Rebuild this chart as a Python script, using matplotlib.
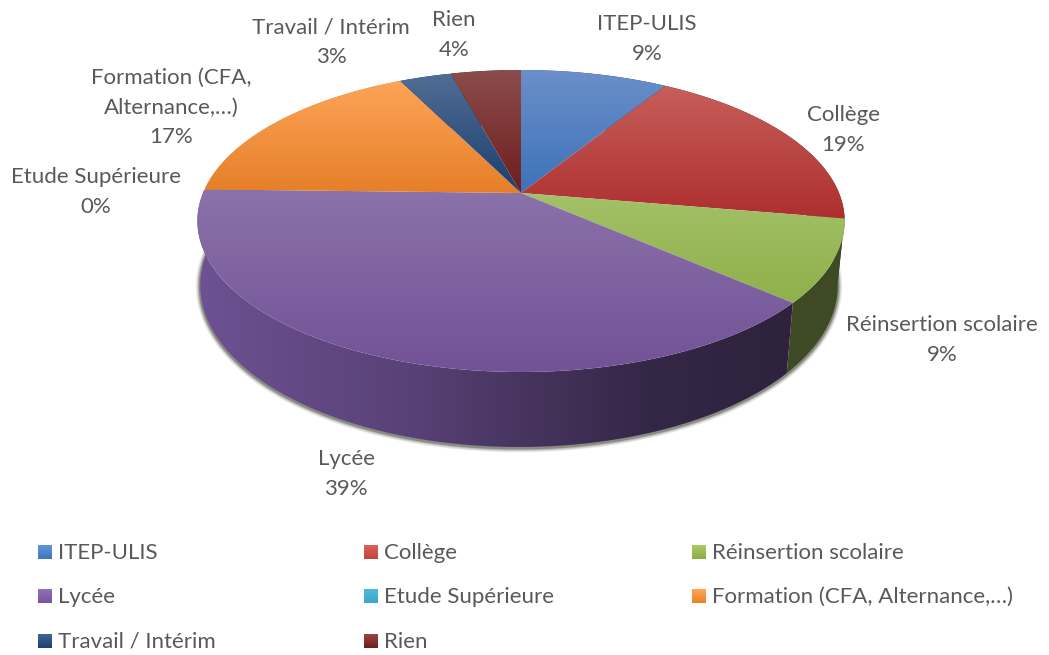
import numpy as np
import matplotlib
matplotlib.use("Agg")
import matplotlib.pyplot as plt
from matplotlib.patches import Polygon

categories = ["ITEP-ULIS", "Collège", "Réinsertion scolaire", "Lycée",
              "Etude Supérieure", "Formation (CFA, Alternance,…)", "Travail / Intérim", "Rien"]
# share of each slice, percent
shares = [8.8, 18.9, 8.8, 38.9, 0.0, 17.3, 3.1, 4.2]

# wrapped text of the labels on the pie
pie_names = ["ITEP-ULIS", "Collège", "Réinsertion scolaire", "Lycée",
             "Etude Supérieure", "Formation (CFA,\nAlternance,…)", "Travail / Intérim", "Rien"]
pie_label_x = [647, 843, 942, 346, 96, 171, 331, 454]
pie_label_y = [60, 151, 361, 495, 213, 143, 63, 56]

top_light = ["#6b8fc9", "#c65f5a", "#a3c168", "#8b72aa", "#4bacc6", "#fda458", "#506d94", "#8a4d4b"]
top_dark = ["#3d72b8", "#ae2f2f", "#8fb04a", "#725296", "#4bacc6", "#e67f28", "#1c3f70", "#6f1d1d"]
side_base = ["#4f81bd", "#c0504d", "#9bbb59", "#73559a", "#4bacc6", "#f79646", "#1f497d", "#772c2a"]
legend_light = ["#5f95d8", "#df5f5a", "#a9cc62", "#9070b8", "#4dbbd8", "#ffa555", "#3f6595", "#964542"]
legend_dark = ["#3f78bd", "#c04540", "#8cad48", "#7a55a0", "#3ba8c8", "#e88328", "#1f426f", "#6f1f1d"]

text_color = "#595959"
font = "Lato"
cx, cy = 521, 193
R = 318
Rb = 145.8
k = 0.1854


def project(theta, bottom=False):
    x = np.cos(theta)
    y = np.sin(theta)
    den = 1 + k * y
    sx, sy, dx, dy = (0.985, 1.07, -2, 62.5) if bottom else (1, 1, 0, 0)
    return cx + dx + sx * R * x / den, cy + dy - sy * Rb * y / den


def to_rgb(c):
    return np.array(matplotlib.colors.to_rgb(c))


def fill_image(ax, patch_xy, img, zorder):
    xs, ys = patch_xy[:, 0], patch_xy[:, 1]
    im = ax.imshow(img, extent=[xs.min(), xs.max(), ys.max(), ys.min()], aspect="auto",
                   zorder=zorder, interpolation="bilinear")
    poly = Polygon(patch_xy, closed=True, transform=ax.transData, fc="none", ec="none")
    ax.add_patch(poly)
    im.set_clip_path(poly)


def vgrad(c1, c2, n=64):
    t = np.linspace(0, 1, n)[:, None, None]
    return (1 - t) * to_rgb(c1)[None, None, :] + t * to_rgb(c2)[None, None, :]


fig = plt.figure(figsize=(10.49, 6.55), dpi=100)
ax = fig.add_axes([0, 0, 1, 1])

edges = 90 - np.cumsum([0] + shares) * 3.6

# soft shadow around the lower rim
t = np.radians(np.linspace(-190, 10, 300))
sx, sy = project(t, bottom=True)
for lw, a in zip([9, 7, 5, 3], [0.08, 0.13, 0.2, 0.35]):
    ax.plot(sx, sy + 1, color="#3a3a30", lw=lw * 0.72, alpha=a, zorder=1, solid_capstyle="round")

# side wall, then top face
for i in range(len(categories)):
    if shares[i] == 0:
        continue
    t = np.radians(np.linspace(edges[i], edges[i + 1], 160))
    tx, ty = project(t)
    bx, by = project(t, bottom=True)
    side = np.column_stack([np.r_[tx, bx[::-1]], np.r_[ty, by[::-1]]])
    xs = np.linspace(side[:, 0].min(), side[:, 0].max(), 128)
    shade = np.interp(xs, [197, 300, 400, 520, 650, 790, 845], [0.95, 0.86, 0.78, 0.62, 0.46, 0.4, 0.4])
    img = shade[None, :, None] * to_rgb(side_base[i])[None, None, :]
    fill_image(ax, side, img, 2)

for i in range(len(categories)):
    if shares[i] == 0:
        continue
    t = np.radians(np.linspace(edges[i], edges[i + 1], 160))
    tx, ty = project(t)
    top = np.column_stack([np.r_[cx, tx], np.r_[cy, ty]])
    fill_image(ax, top, vgrad(top_light[i], top_dark[i]), 3)

# labels on the pie
for name, share, x, y in zip(pie_names, shares, pie_label_x, pie_label_y):
    ax.text(x, y, f"{name}\n{share:.0f}%", ha="center", va="baseline", color=text_color,
            family=font, fontsize=16, linespacing=1.6, zorder=5)

# legend, three columns filled row by row
legend_x = [38, 364, 692]
legend_y = [552, 596, 641]
for i, name in enumerate(categories):
    lx = legend_x[i % 3]
    ly = legend_y[i // 3]
    ax.imshow(vgrad(legend_light[i], legend_dark[i], 16), extent=[lx, lx + 14, ly + 7, ly - 7],
              aspect="auto", zorder=4)
    ax.text(lx + 20, ly + 7, name, ha="left", va="baseline", color=text_color,
            family=font, fontsize=16, zorder=5)

ax.set_xlim(0, 1049)
ax.set_ylim(655, 0)
ax.axis("off")
fig.savefig("out.png", dpi=100, facecolor="white")
